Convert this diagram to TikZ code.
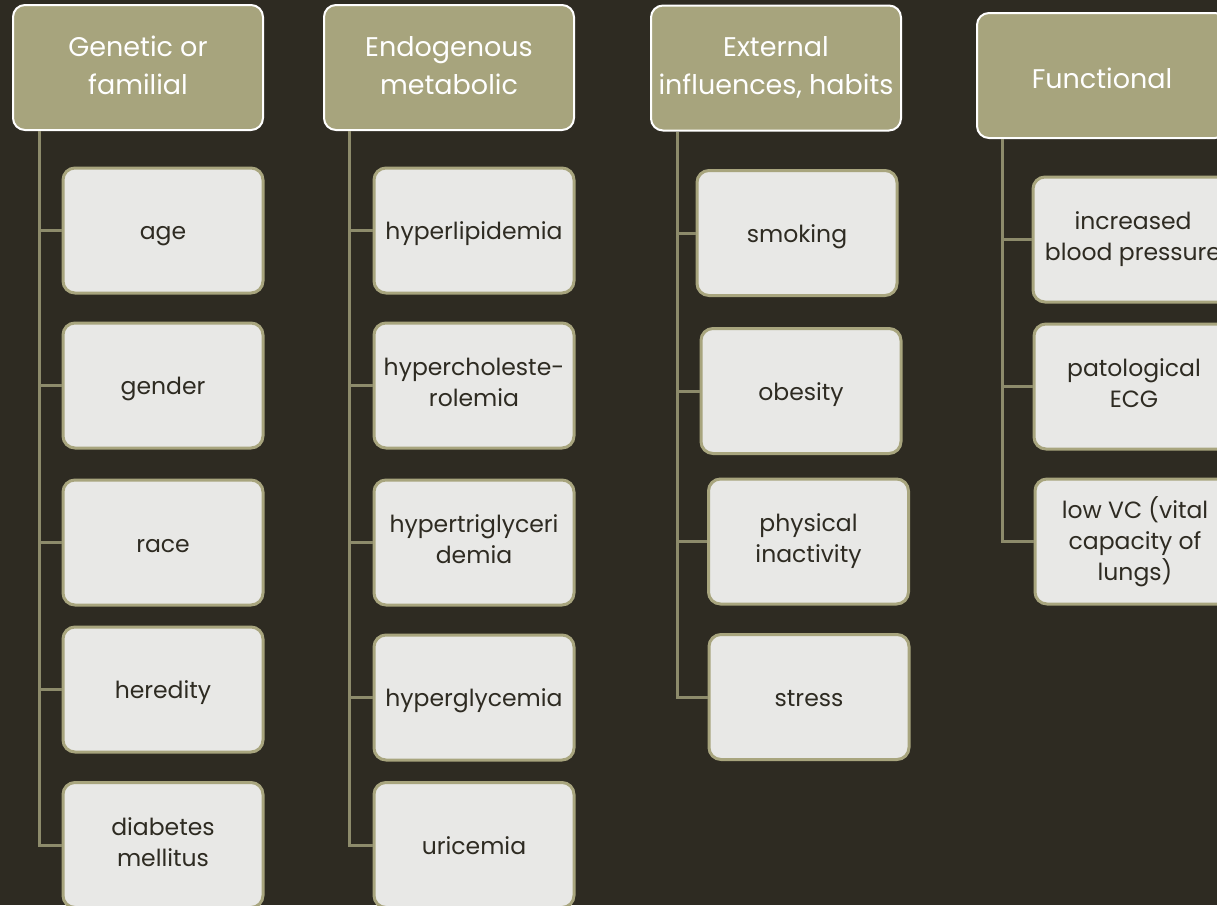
\documentclass[tikz,border=0pt]{standalone}
\usepackage{fontspec}
\setmainfont{Poppins}
\definecolor{bg}{HTML}{2E2B22}
\definecolor{hdrfill}{HTML}{A7A47D}
\definecolor{boxfill}{HTML}{E8E8E6}
\definecolor{boxline}{HTML}{A8A57E}
\definecolor{connline}{HTML}{8D8B6B}
\definecolor{txt}{HTML}{2E2B22}
\begin{document}
\begin{tikzpicture}[x=1pt,y=-1pt,
  hdr/.style={draw=white, line width=2pt, fill=hdrfill, rounded corners=12pt,
    minimum width=250pt, minimum height=125pt, inner sep=0pt, align=center,
    text=white, font=\fontsize{27}{38}\selectfont,
    execute at begin node={\rule{0pt}{30pt}},
    execute at end node={\rule[-4pt]{0pt}{4pt}}},
  leaf/.style={draw=boxline, line width=3pt, fill=boxfill, rounded corners=12pt,
    minimum width=200pt, minimum height=125pt, inner sep=0pt, align=center,
    text=txt, font=\fontsize{23.5}{31}\selectfont,
    execute at begin node={\rule{0pt}{25pt}},
    execute at end node={\rule[-6pt]{0pt}{6pt}}},
  conn/.style={draw=connline, line width=3pt}]
\useasboundingbox (0,0) rectangle (1217,905);
\fill[bg] (0,0) rectangle (1217,905);
\clip (0,0) rectangle (1217,905);

% column 1
\coordinate (v1) at (39,0);
\node[hdr] (h1) at (138,67.5) {Genetic or\\familial};
\node[leaf] (a1) at (163,230.5) {age};
\node[leaf] (a2) at (163,385.5) {gender};
\node[leaf] (a3) at (163,542.5) {race};
\node[leaf] (a4) at (163,689.5) {heredity};
\node[leaf] (a5) at (163,845) {diabetes\\mellitus};

% column 2
\coordinate (v2) at (349,0);
\node[hdr] (h2) at (449,67.5) {Endogenous\\metabolic};
\node[leaf] (b1) at (474,230.5) {hyperlipidemia};
\node[leaf] (b2) at (474,385.5) {hypercholeste-\\rolemia};
\node[leaf] (b3) at (474,542.5) {hypertriglyceri\\demia};
\node[leaf] (b4) at (474,697.5) {hyperglycemia};
\node[leaf] (b5) at (474,845) {uricemia};

% column 3
\coordinate (v3) at (677,0);
\node[hdr] (h3) at (776,68) {External\\influences, habits};
\node[leaf] (c1) at (797,233) {smoking};
\node[leaf] (c2) at (801,391) {obesity};
\node[leaf] (c3) at (808.5,541.5) {physical\\inactivity};
\node[leaf] (c4) at (809,697) {stress};

% column 4
\coordinate (v4) at (1002,0);
\node[hdr] (h4) at (1102,75.5) {Functional};
\node[leaf] (d1) at (1133,239.5) {increased\\blood pressure};
\node[leaf] (d2) at (1134,386.5) {patological\\ECG};
\node[leaf] (d3) at (1135,541.5) {low VC (vital\\capacity of\\lungs)};

% connectors
\path[conn] (v1 |- h1.south) -- (v1 |- a5.west) -- (a5.west);
\foreach \n in {a1,a2,a3,a4} \path[conn] (v1 |- \n.west) -- (\n.west);
\path[conn] (v2 |- h2.south) -- (v2 |- b5.west) -- (b5.west);
\foreach \n in {b1,b2,b3,b4} \path[conn] (v2 |- \n.west) -- (\n.west);
\path[conn] (v3 |- h3.south) -- (v3 |- c4.west) -- (c4.west);
\foreach \n in {c1,c2,c3} \path[conn] (v3 |- \n.west) -- (\n.west);
\path[conn] (v4 |- h4.south) -- (v4 |- d3.west) -- (d3.west);
\foreach \n in {d1,d2} \path[conn] (v4 |- \n.west) -- (\n.west);
\end{tikzpicture}
\end{document}
